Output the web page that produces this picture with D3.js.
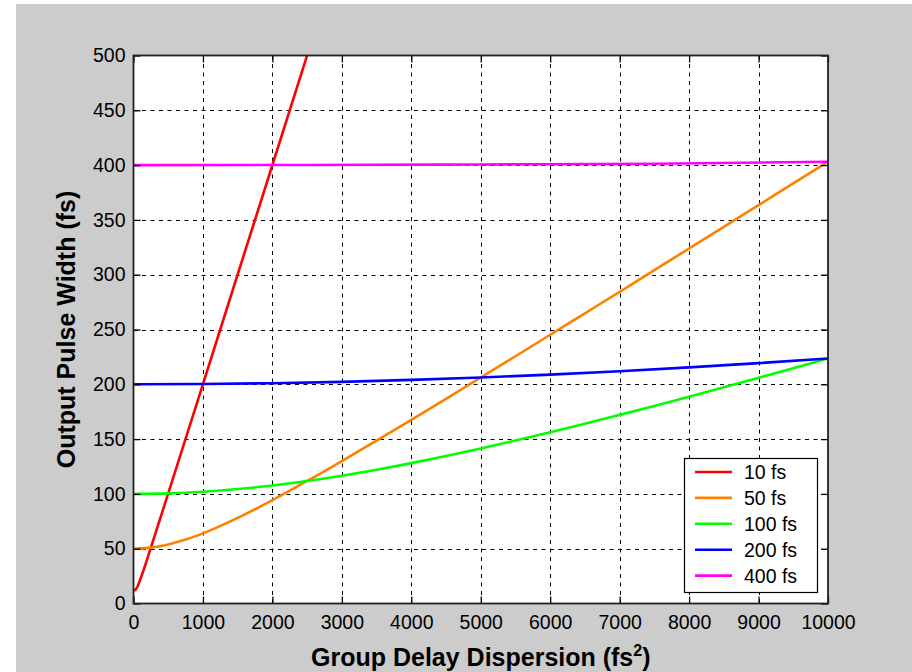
<!DOCTYPE html>
<html>
<head>
<meta charset="utf-8">
<script src="https://cdn.jsdelivr.net/npm/d3@7"></script>
<style>
  body { margin: 0; background: #ffffff; }
  svg { display: block; }
  text { font-family: "Liberation Sans", Arial, sans-serif; fill: #000; }
</style>
</head>
<body>
<svg id="chart" width="912" height="672"></svg>
<script>
// ---- data ----
const seriesNames = ["10 fs", "50 fs", "100 fs", "200 fs", "400 fs"];
const seriesColors = ["#ff0000", "#ff8000", "#00ff00", "#0000ff", "#ff00ff"];

const gdd10 = [0, 25, 50, 100, 250, 500, 1000, 1500, 2000, 2500];
const width10 = [12, 12.5, 14.5, 22.4, 51.0, 100.5, 200.2, 300.2, 400.1, 500.1];

const gdd50 = [0, 250, 500, 750, 1000, 1500, 2000, 2500, 3000, 3500, 4000, 4500, 5000,
               5500, 6000, 6500, 7000, 7500, 8000, 8500, 9000, 9500, 10000];
const width50 = [50, 51.0, 53.9, 58.3, 64.0, 78.1, 94.3, 111.8, 130.0, 148.7, 167.6, 186.8, 206.2,
                 225.6, 245.2, 264.8, 284.4, 304.1, 323.9, 343.7, 363.5, 383.3, 403.1];

const gdd100 = [0, 500, 1000, 1500, 2000, 2500, 3000, 3500, 4000, 4500, 5000,
                5500, 6000, 6500, 7000, 7500, 8000, 8500, 9000, 9500, 10000];
const width100 = [100, 100.5, 102.0, 104.4, 107.7, 111.8, 116.6, 122.1, 128.1, 134.5, 141.4,
                  148.7, 156.2, 164.0, 172.1, 180.3, 188.7, 197.2, 205.9, 214.7, 223.6];

const gdd200 = [0, 1000, 2000, 3000, 4000, 5000, 6000, 7000, 8000, 9000, 10000];
const width200 = [200, 200.3, 201.0, 202.2, 204.0, 206.2, 208.8, 211.9, 215.4, 219.3, 223.6];

const gdd400 = [0, 2500, 5000, 7500, 10000];
const width400 = [400, 400.1, 400.6, 401.2, 403.1];

const xTicks = [0, 1000, 2000, 3000, 4000, 5000, 6000, 7000, 8000, 9000, 10000];
const yTicks = [0, 50, 100, 150, 200, 250, 300, 350, 400, 450, 500];

const xLabel = "Group Delay Dispersion (fs";
const yLabel = "Output Pulse Width (fs)";

// ---- layout ----
const svg = d3.select("#chart");
const L = 133.5, R = 828, T = 55.5, B = 603.5;
const tickFont = 19.5, labelFont = 25;

svg.append("rect").attr("x", 16).attr("y", 4).attr("width", 912 - 16).attr("height", 672 - 4)
  .attr("fill", "#cccccc");

const x = d3.scaleLinear().domain([0, 10000]).range([L, R]);
const y = d3.scaleLinear().domain([0, 500]).range([B, T]);

svg.append("rect").attr("x", L).attr("y", T).attr("width", R - L).attr("height", B - T)
  .attr("fill", "#ffffff");

// grid
const grid = svg.append("g").attr("stroke", "#000").attr("stroke-width", 1)
  .attr("stroke-dasharray", "4,4.5");
xTicks.slice(1, -1).forEach(t => {
  grid.append("line").attr("x1", Math.round(x(t)) + 0.5).attr("x2", Math.round(x(t)) + 0.5)
    .attr("y1", B).attr("y2", T);
});
yTicks.slice(1, -1).forEach(t => {
  grid.append("line").attr("y1", Math.round(y(t)) + 0.5).attr("y2", Math.round(y(t)) + 0.5)
    .attr("x1", L).attr("x2", R);
});

// series
svg.append("clipPath").attr("id", "clip").append("rect")
  .attr("x", L).attr("y", T).attr("width", R - L).attr("height", B - T);

const allSeries = [
  [gdd10, width10], [gdd50, width50], [gdd100, width100], [gdd200, width200], [gdd400, width400]
];
const line = d3.line().x(d => x(d[0])).y(d => y(d[1])).curve(d3.curveMonotoneX);
const lines = svg.append("g").attr("clip-path", "url(#clip)");
allSeries.forEach((s, i) => {
  const pts = s[0].map((g, j) => [g, s[1][j]]);
  lines.append("path").datum(pts).attr("d", line)
    .attr("fill", "none").attr("stroke", seriesColors[i]).attr("stroke-width", 2.6);
});

// axes (ticks inward, on all four sides)
const tickLen = 7;
const fmt = d3.format("d");
const axB = svg.append("g").attr("transform", `translate(0,${B})`)
  .call(d3.axisBottom(x).tickValues(xTicks).tickFormat(fmt).tickSizeInner(-tickLen).tickSizeOuter(0).tickPadding(11));
const axT = svg.append("g").attr("transform", `translate(0,${T})`)
  .call(d3.axisTop(x).tickValues(xTicks).tickSizeInner(-tickLen).tickSizeOuter(0).tickFormat(""));
const axL = svg.append("g").attr("transform", `translate(${L},0)`)
  .call(d3.axisLeft(y).tickValues(yTicks).tickFormat(fmt).tickSizeInner(-tickLen).tickSizeOuter(0).tickPadding(8));
const axR = svg.append("g").attr("transform", `translate(${R},0)`)
  .call(d3.axisRight(y).tickValues(yTicks).tickSizeInner(-tickLen).tickSizeOuter(0).tickFormat(""));

[axB, axT, axL, axR].forEach(a => {
  a.select(".domain").remove();
  a.selectAll(".tick line").attr("stroke", "#000").attr("stroke-width", 1.3);
  a.selectAll("text").attr("font-size", tickFont).attr("font-family", "'Liberation Sans', Arial, sans-serif")
    .attr("fill", "#111");
});
axB.selectAll("text").attr("dy", "0.72em");

// box
svg.append("rect").attr("x", L).attr("y", T).attr("width", R - L).attr("height", B - T)
  .attr("fill", "none").attr("stroke", "#222").attr("stroke-width", 1.8);

// axis labels
const xl = svg.append("text").attr("x", (L + R) / 2).attr("y", 666)
  .attr("text-anchor", "middle").attr("font-size", labelFont).attr("font-weight", "bold");
xl.append("tspan").text(xLabel);
xl.append("tspan").attr("dy", -10).attr("font-size", 16).text("2");
xl.append("tspan").attr("dy", 10).text(")");

svg.append("text").attr("transform", `translate(75,${(T + B) / 2}) rotate(-90)`)
  .attr("text-anchor", "middle").attr("font-size", labelFont).attr("font-weight", "bold").text(yLabel);

// legend
const lg = svg.append("g");
lg.append("rect").attr("x", 684.5).attr("y", 458.5).attr("width", 133).attr("height", 134)
  .attr("fill", "#fff").attr("stroke", "#000").attr("stroke-width", 1.2);
seriesNames.forEach((n, i) => {
  const cy = 472 + i * 25.9;
  lg.append("line").attr("x1", 695).attr("x2", 732).attr("y1", cy).attr("y2", cy)
    .attr("stroke", seriesColors[i]).attr("stroke-width", 2.6);
  lg.append("text").attr("x", 744).attr("y", cy).attr("dy", "0.36em")
    .attr("font-size", tickFont).attr("fill", "#111").text(n);
});
</script>
</body>
</html>
